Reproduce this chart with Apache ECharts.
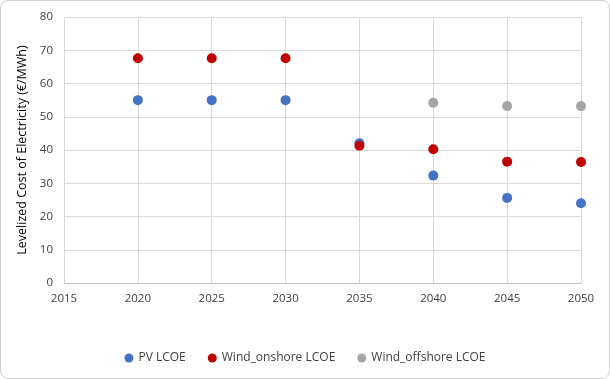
<!DOCTYPE html>
<html>
<head>
<meta charset="utf-8">
<script src="https://cdn.jsdelivr.net/npm/echarts@6/dist/echarts.min.js"></script>
<style>
html,body{margin:0;padding:0;background:#fff;}
#wrap{position:absolute;left:0;top:0;width:608px;height:377px;border:1px solid #d0d0d0;border-radius:8px;overflow:hidden;}
#c{width:608px;height:377px;}
</style>
</head>
<body>
<div id="wrap"><div id="c"></div></div>
<script>
const years = [2020, 2025, 2030, 2035, 2040, 2045, 2050];
const pvLCOE = [55, 55, 55, 42, 32.3, 25.6, 24.0];
const windOnshore = [67.6, 67.6, 67.6, 41.3, 40.2, 36.5, 36.4];
const offshoreYears = [2040, 2045, 2050];
const windOffshore = [54.2, 53.2, 53.2];
const seriesNames = ['PV LCOE', 'Wind_onshore LCOE', 'Wind_offshore LCOE'];
const colors = ['#4472c4', '#c00000', '#a5a5a5'];

const chart = echarts.init(document.getElementById('c'));
const font = 'Open Sans, Liberation Sans, sans-serif';
chart.setOption({
  animation: false,
  textStyle: {fontFamily: font},
  grid: {left: 63, right: 28, top: 16, bottom: 95},
  legend: {
    bottom: 9,
    left: 'center',
    itemWidth: 9, itemHeight: 9, itemGap: 22,
    icon: 'circle',
    textStyle: {fontSize: 12, color: '#404040', fontFamily: font},
    data: seriesNames
  },
  xAxis: {
    type: 'value', min: 2015, max: 2050, interval: 5,
    axisLine: {show: true, lineStyle: {color: '#bfbfbf'}},
    axisTick: {show: false},
    axisLabel: {color: '#404040', fontSize: 11.5, margin: 10, fontFamily: font, formatter: v => String(v)},
    splitLine: {show: true, lineStyle: {color: '#d9d9d9'}}
  },
  yAxis: {
    type: 'value', min: 0, max: 80, interval: 10,
    name: 'Levelized Cost of Electricity (€/MWh)',
    nameLocation: 'middle', nameGap: 27,
    nameTextStyle: {fontSize: 12.5, color: '#000', fontFamily: font},
    axisLine: {show: false},
    axisTick: {show: false},
    axisLabel: {color: '#404040', fontSize: 11.5, margin: 11, fontFamily: font},
    splitLine: {show: true, lineStyle: {color: '#d9d9d9'}}
  },
  series: [
    {name: seriesNames[0], type: 'scatter', symbolSize: 10, itemStyle: {color: colors[0], opacity: 1},
     data: years.map((y, i) => [y, pvLCOE[i]])},
    {name: seriesNames[1], type: 'scatter', symbolSize: 10, itemStyle: {color: colors[1], opacity: 1},
     data: years.map((y, i) => [y, windOnshore[i]])},
    {name: seriesNames[2], type: 'scatter', symbolSize: 10, itemStyle: {color: colors[2], opacity: 1},
     data: offshoreYears.map((y, i) => [y, windOffshore[i]])}
  ]
});
</script>
</body>
</html>
